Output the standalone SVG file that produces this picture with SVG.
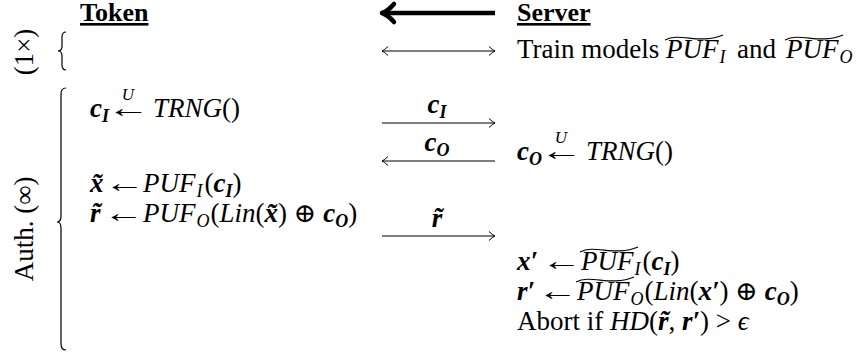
<svg xmlns="http://www.w3.org/2000/svg" width="862" height="356" viewBox="0 0 862 356">
<style>
text{font-family:"Liberation Serif","DejaVu Serif",serif;font-size:27px;fill:#000}
.h{font-size:26px;font-weight:bold}
.i{font-style:italic}
.bi{font-style:italic;font-weight:bold}
.s{font-size:18px}
.u{font-size:17px;font-style:italic}
.a{text-anchor:middle}
.br{stroke:#000;stroke-width:1.2;fill:none}
.tl{stroke:#000;stroke-width:1.2;fill:none}
.ar{stroke:#000;stroke-width:1.1;fill:none}
</style>
<defs>
<marker id="ah" markerUnits="userSpaceOnUse" markerWidth="10" markerHeight="12" viewBox="-8 -6 10 12" refX="0" refY="0" orient="auto-start-reverse">
<path d="M-6,-4.5 Q-2.5,-1 0,0 Q-2.5,1 -6,4.5" fill="none" stroke="#000" stroke-width="1"/>
</marker>
</defs>

<g id="token-header"><text x="80" y="21" class="h" text-decoration="underline">Token</text></g>
<g id="server-header"><text x="517" y="21" class="h" text-decoration="underline">Server</text></g>

<g id="phase-setup">
<text transform="translate(33,52) rotate(-90)" text-anchor="middle">(1×)</text>
<path class="br" d="M66,32 Q62,32 62,37 L62,46 Q62,51 58,51 Q62,51 62,56 L62,65 Q62,70 66,70"/>
</g>
<g id="phase-auth">
<text transform="translate(33,229) rotate(-90)" text-anchor="middle">Auth. (∞)</text>
<path class="br" d="M66,88 Q61,88 61,94 L61,216 Q61,222 57,222 Q61,222 61,228 L61,344 Q61,350 66,350"/>
</g>

<g id="setup-train">
<text x="517" y="58">Train models</text>
<text x="666" y="58" class="i">PUF<tspan class="s" dx="1" dy="5">I</tspan></text>
<path class="tl" d="M665,40 C680,32 700,45 723,35"/>
<text x="737" y="58">and</text>
<text x="786" y="58" class="i">PUF<tspan class="s" dx="1" dy="5">O</tspan></text>
<path class="tl" d="M785,40 C800,32 820,45 843,35"/>
</g>

<g id="token-ci">
<text x="90" y="117"><tspan class="bi">c</tspan><tspan class="bi s" dy="5">I</tspan></text>
<text class="a" transform="translate(128,117) scale(1.6,1)">←</text>
<text x="128" y="100" class="u a">U</text>
<text x="153" y="117"><tspan class="i">TRNG</tspan>()</text>
</g>

<g id="token-x">
<text x="90" y="192" class="bi">x̃</text>
<text class="a" transform="translate(125,192) scale(1.5,1)">←</text>
<text x="143" y="192"><tspan class="i">PUF</tspan><tspan class="i s" dx="1" dy="5">I</tspan><tspan dx="2" dy="-5">(</tspan><tspan class="bi">c</tspan><tspan class="bi s" dy="5">I</tspan><tspan dy="-5">)</tspan></text>
</g>

<g id="token-r">
<text x="90" y="222" class="bi">r̃</text>
<text class="a" transform="translate(124,222) scale(1.5,1)">←</text>
<text x="143" y="222"><tspan class="i">PUF</tspan><tspan class="i s" dx="1" dy="5">O</tspan><tspan dx="1" dy="-5">(</tspan><tspan class="i">Lin</tspan>(<tspan class="bi">x̃</tspan>) ⊕ <tspan class="bi">c</tspan><tspan class="bi s" dy="5">O</tspan><tspan dy="-5">)</tspan></text>
</g>

<g id="server-co">
<text x="517" y="160"><tspan class="bi">c</tspan><tspan class="bi s" dy="5">O</tspan></text>
<text class="a" transform="translate(561,160) scale(1.6,1)">←</text>
<text x="561" y="143" class="u a">U</text>
<text x="586" y="160"><tspan class="i">TRNG</tspan>()</text>
</g>

<g id="server-x">
<text x="517" y="270" class="bi">x′</text>
<text class="a" transform="translate(562,270) scale(1.5,1)">←</text>
<text x="581" y="270"><tspan class="i">PUF</tspan><tspan class="i s" dx="1" dy="5">I</tspan><tspan dx="2" dy="-5">(</tspan><tspan class="bi">c</tspan><tspan class="bi s" dy="5">I</tspan><tspan dy="-5">)</tspan></text>
<path class="tl" d="M580,252 C595,244 615,257 638,247"/>
</g>

<g id="server-r">
<text x="517" y="300" class="bi">r′</text>
<text class="a" transform="translate(558,300) scale(1.5,1)">←</text>
<text x="577" y="300"><tspan class="i">PUF</tspan><tspan class="i s" dx="1" dy="5">O</tspan><tspan dx="1" dy="-5">(</tspan><tspan class="i">Lin</tspan>(<tspan class="bi">x′</tspan>) ⊕ <tspan class="bi">c</tspan><tspan class="bi s" dy="5">O</tspan><tspan dy="-5">)</tspan></text>
<path class="tl" d="M576,282 C591,274 611,287 634,277"/>
</g>

<g id="server-abort">
<text x="517" y="330">Abort if <tspan class="i">HD</tspan>(<tspan class="bi">r̃</tspan>, <tspan class="bi">r′</tspan>) &gt; <tspan class="i">ϵ</tspan></text>
</g>

<g id="connectors">
<path d="M495,13 L386,13" stroke="#000" stroke-width="4.5" fill="none"/>
<path d="M394,4 Q388,11 382,13 Q388,15 394,22" stroke="#000" stroke-width="4.5" fill="none" stroke-linecap="round" stroke-linejoin="round"/>
<line class="ar" x1="382" y1="51" x2="495" y2="51" marker-start="url(#ah)" marker-end="url(#ah)"/>
<line class="ar" x1="382" y1="123" x2="495" y2="123" marker-end="url(#ah)"/>
<text x="437" y="113" text-anchor="middle"><tspan class="bi">c</tspan><tspan class="bi s" dy="5">I</tspan></text>
<line class="ar" x1="495" y1="161" x2="382" y2="161" marker-end="url(#ah)"/>
<text x="437" y="151" text-anchor="middle"><tspan class="bi">c</tspan><tspan class="bi s" dy="5">O</tspan></text>
<line class="ar" x1="382" y1="236" x2="495" y2="236" marker-end="url(#ah)"/>
<text x="437" y="227" text-anchor="middle" class="bi">r̃</text>
</g>
</svg>
